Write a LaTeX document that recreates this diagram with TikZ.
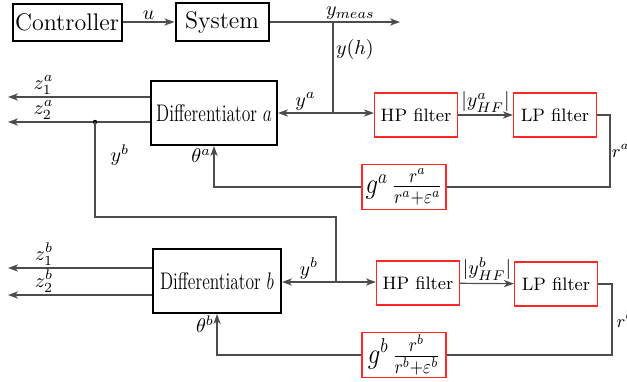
\documentclass[tikz,border=0pt]{standalone}
\usepackage{amsmath}
\usetikzlibrary{arrows, arrows.meta, positioning}

\tikzset{
  blk/.style={draw, line width=1pt, inner sep=1pt},
  filt/.style={draw=red!85, line width=0.6pt, inner sep=2pt, minimum width=41.5pt, minimum height=22pt, font=\small},
  gain/.style={draw=red!85, line width=0.6pt, inner sep=1pt, minimum width=42pt, minimum height=22.5pt, font=\Large},
  sig/.style={draw=black!70, line width=0.6pt},
  lbl/.style={text=black, inner sep=1.2pt},
}

\begin{document}
\begin{tikzpicture}[x=0.5pt, y=-0.5pt, >={Stealth[length=5pt, width=3.6pt, inset=1.4pt]}]
\useasboundingbox (0,0) rectangle (627,381);

\node[blk, minimum width=54.5pt, minimum height=18.5pt](ctrl) at (67,22) {\large Controller};
\node[blk, minimum width=46.5pt, minimum height=19pt](sys) at (222,22) {\large System};
\node[blk, minimum width=63pt, minimum height=32pt](da) at (214,113) {\scalebox{0.73}[1]{\large Differentiator $a$}};
\node[blk, minimum width=64pt, minimum height=32pt](db) at (217,281) {\scalebox{0.73}[1]{\large Differentiator $b$}};

\node[filt](hpa) at (416,115) {HP filter};
\node[filt](lpa) at (555,115) {LP filter};
\node[filt](hpb) at (418,283) {HP filter};
\node[filt](lpb) at (556,284) {LP filter};
\node[gain](ga) at (404,187) {\scalebox{0.86}[1]{$g^a\,\frac{r^a}{r^a+\varepsilon^a}$}};
\node[gain](gb) at (404,355) {\scalebox{0.86}[1]{$g^b\,\frac{r^b}{r^b+\varepsilon^b}$}};

\coordinate (ymeas) at (400,22);
\coordinate (ja) at (333,22);
\coordinate (jya) at (333,113);
\coordinate (jyb) at (336,282);
\coordinate (za1) at (8,97);
\coordinate (za2) at (8,122);
\coordinate (zb1) at (8,268);
\coordinate (zb2) at (8,295);
\coordinate (tap) at (95,122);

% top loop
\draw[sig, ->] (ctrl) -- node[above, lbl]{$u$} (sys);
\draw[sig, ->] (sys) -- node[pos=0.62, above, lbl]{$y_{meas}$} (ymeas);
\draw[sig] (ja) -- node[pos=0.3, right, lbl]{$y(h)$} (jya);
\draw[sig, ->] (jya) -- node[above, lbl]{$y^a$} (da.east |- jya);
\draw[sig, ->] (jya) -- (hpa.west |- jya);

% differentiator a
\draw[sig, ->] (da.west |- za1) -- node[above, pos=0.75, lbl]{$z^a_1$} (za1);
\draw[sig, ->] (da.west |- za2) -- node[above, pos=0.75, lbl]{$z^a_2$} (za2);
\fill (tap) circle (1.1pt);
\draw[sig] (tap) -- (95,217) -- (336,217) -- (jyb);
\node at (120,155) {$y^b$};
\draw[sig, ->] (hpa) -- node[above, lbl]{$|y^a_{HF}|$} (lpa);
\draw[sig] (lpa.east) -- (610,115) -- node[right, lbl, inner sep=0.6pt, font=\small]{$r^a$} (610,187) -- (ga.east);
\draw[sig, ->] (ga.west) -| node[pos=0.88, left, lbl]{$\theta^a$} (da.south);

% differentiator b
\draw[sig, ->] (jyb) -- node[above, lbl]{$y^b$} (db.east |- jyb);
\draw[sig, ->] (jyb) -- (hpb.west |- jyb);
\draw[sig, ->] (db.west |- zb1) -- node[above, pos=0.75, lbl]{$z^b_1$} (zb1);
\draw[sig, ->] (db.west |- zb2) -- node[above, pos=0.75, lbl]{$z^b_2$} (zb2);
\draw[sig, ->] (hpb) -- node[above, lbl]{$|y^b_{HF}|$} (lpb);
\draw[sig] (lpb.east) -- (612,284) -- node[right, lbl, inner sep=2pt, font=\small]{$r^b$} (612,355) -- (gb.east);
\draw[sig, ->] (gb.west) -| node[pos=0.88, left, lbl]{$\theta^b$} (db.south);
\end{tikzpicture}
\end{document}
